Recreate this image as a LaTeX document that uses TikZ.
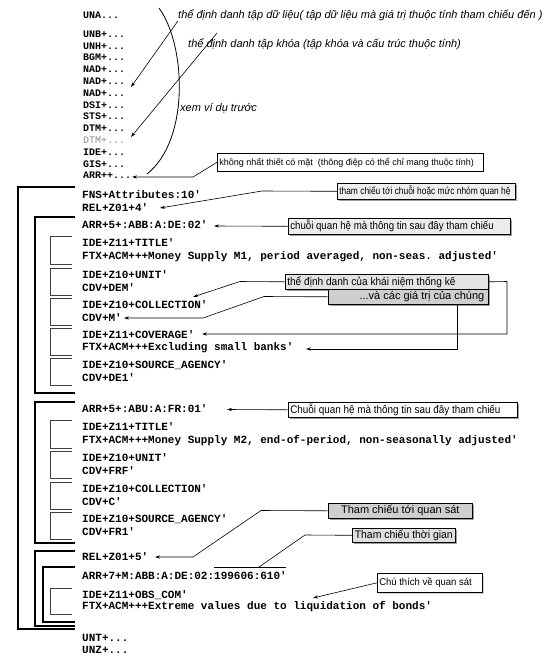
\documentclass[tikz,border=0pt]{standalone}
\usepackage{fontspec}
\setmainfont{Liberation Sans}
\setmonofont{Liberation Mono}
\usetikzlibrary{arrows.meta,shadows}
\newcommand\myfs[1]{\fontsize{#1}{#1}\selectfont}
% left-aligned (or right/centre) text of a given width, condensed horizontally
\newcommand\boxtext[4]{\makebox[#1][#2]{\scalebox{#3}[1]{#4}}}
\tikzset{
  code/.style={anchor=west, inner sep=0pt, font=\ttfamily\bfseries\myfs{11}},
  topcode/.style={anchor=west, inner sep=0pt, font=\ttfamily\bfseries\myfs{10}},
  note/.style={anchor=west, inner sep=0pt, font=\itshape\myfs{11}},
  cbox/.style={draw, line width=0.6pt, anchor=north west, inner xsep=2pt, inner ysep=0pt,
    drop shadow={shadow xshift=1.5pt, shadow yshift=-1.5pt, fill=gray!75, opacity=1}},
  plainbox/.style={draw, line width=0.6pt, anchor=north west, inner xsep=2pt, inner ysep=0pt, fill=white},
  big/.style={line width=1.1pt},
  small/.style={line width=0.6pt, draw=black!75},
  arr/.style={-{Stealth[length=5pt,width=3.2pt]}, line width=0.6pt},
  link/.style={line width=0.6pt}
}
\begin{document}
\begin{tikzpicture}[x=1pt,y=-1pt]
\useasboundingbox (0,0) rectangle (553,657);
\fill[white] (0,0) rectangle (553,657);

% ---------- top section ----------
\node[topcode] (una) at (83,15) {UNA...};
\node[topcode] (unb) at (83,34) {UNB+...};
\node[topcode] (unh) at (83,45.8) {UNH+...};
\node[topcode] (bgm) at (83,57.6) {BGM+...};
\node[topcode] (nad1) at (83,69.4) {NAD+...};
\node[topcode] (nad2) at (83,81.2) {NAD+...};
\node[topcode] (nad3) at (83,93) {NAD+...};
\node[topcode] (dsi) at (83,104.8) {DSI+...};
\node[topcode] (sts) at (83,116.6) {STS+...};
\node[topcode] (dtm1) at (83,128.4) {DTM+...};
\node[topcode, text=black!45, font=\ttfamily\myfs{10}] (dtm2) at (83,140.2) {DTM+...};
\node[topcode] (ide0) at (83,152) {IDE+...};
\node[topcode] (gis) at (83,163.8) {GIS+...};
\node[topcode] (arr0) at (83,175.6) {ARR++...};

\node[note] (t1) at (178,15) {thể định danh tập dữ liệu( tập dữ liệu mà giá trị thuộc tính tham chiếu đến )};
\node[note] (t2) at (188,44) {thể định danh tập khóa (tập khóa và cấu trúc thuộc tính)};
\node[note] (t3) at (180,108) {xem ví dụ trước};

\coordinate (t1tip) at (131,87);
\coordinate (t2s) at (217,33);
\coordinate (t2tip) at (131,137);
\draw[arr] (t1.south west) -- (t1tip);
\draw[arr] (t2s) -- (t2tip);

\coordinate (arcA) at (159,8);
\coordinate (arcB) at (147,174);
\draw[line width=0.8pt] (arcA) .. controls (186,45) and (190,140) .. (arcB);

\node[plainbox, minimum width=266pt, minimum height=18pt, font=\myfs{9}] (b0) at (217,153)
  {\boxtext{262pt}{l}{1}{không nhất thiết có mặt\ \ (thông điệp có thể chỉ mang thuộc tính)}};
\coordinate (b0k) at (193,177);
\coordinate (b0tip) at (132,177);
\draw[arr] (b0.west) -- (b0k) -- (b0tip);

% ---------- codes ----------
\node[code] (fns) at (82,195) {FNS+Attributes:10'};
\node[code] (rel1) at (82,208) {REL+Z01+4'};
\node[code] (arr1) at (82,225) {ARR+5+:ABB:A:DE:02'};
\node[code] (c1a) at (82,243) {IDE+Z11+TITLE'};
\node[code] (c1b) at (82,257) {FTX+ACM+++Money Supply M1, period averaged, non-seas. adjusted'};
\node[code] (c2a) at (82,275) {IDE+Z10+UNIT'};
\node[code] (c2b) at (82,288) {CDV+DEM'};
\node[code] (c3a) at (82,305) {IDE+Z10+COLLECTION'};
\node[code] (c3b) at (82,318) {CDV+M'};
\node[code] (c4a) at (82,335) {IDE+Z11+COVERAGE'};
\node[code] (c4b) at (82,348) {FTX+ACM+++Excluding small banks'};
\node[code] (c5a) at (82,365) {IDE+Z10+SOURCE\_AGENCY'};
\node[code] (c5b) at (82,378) {CDV+DE1'};
\node[code] (arr2) at (82,409) {ARR+5+:ABU:A:FR:01'};
\node[code] (d1a) at (82,427) {IDE+Z11+TITLE'};
\node[code] (d1b) at (82,441) {FTX+ACM+++Money Supply M2, end-of-period, non-seasonally adjusted'};
\node[code] (d2a) at (82,458) {IDE+Z10+UNIT'};
\node[code] (d2b) at (82,471) {CDV+FRF'};
\node[code] (d3a) at (82,489) {IDE+Z10+COLLECTION'};
\node[code] (d3b) at (82,502) {CDV+C'};
\node[code] (d4a) at (82,519) {IDE+Z10+SOURCE\_AGENCY'};
\node[code] (d4b) at (82,532) {CDV+FR1'};
\node[code] (rel2) at (82,557) {REL+Z01+5'};
\node[code] (arr3) at (82,576) {ARR+7+M:ABB:A:DE:02:199606:610'};
\node[code] (e1a) at (82,595) {IDE+Z11+OBS\_COM'};
\node[code] (e1b) at (82,607) {FTX+ACM+++Extreme values due to liquidation of bonds'};
\node[code] (unt) at (82,638) {UNT+...};
\node[code] (unz) at (82,650) {UNZ+...};

% ---------- brackets ----------
\draw[big] (75,187) -- (18,187) -- (18,629) -- (75,629);
\draw[big] (75,217) -- (35,217) -- (35,393) -- (75,393);
\draw[big] (75,402) -- (35,402) -- (35,543) -- (75,543);
\draw[big] (75,551) -- (35,551) -- (35,626) -- (75,626);
\draw[big] (75,567) -- (43,567) -- (43,622) -- (75,622);
\foreach \ya/\yb in {236/264, 268/295, 298/325, 328/355, 358/385,
                     420/448, 451/478, 482/509, 512/539, 588/614}{
  \draw[small] (72,\ya) -- (50,\ya) -- (50,\yb) -- (72,\yb);
}

% ---------- callout boxes ----------
\node[cbox, fill=gray!12, minimum width=178pt, minimum height=16pt, font=\myfs{10}] (b1) at (337,183)
  {\boxtext{174pt}{l}{0.84}{tham chiếu tới chuỗi hoặc mức nhóm quan hệ}};
\node[cbox, fill=gray!15, minimum width=222pt, minimum height=16pt, font=\myfs{11}] (b2) at (288,218)
  {\boxtext{218pt}{l}{0.88}{chuỗi quan hệ mà thông tin sau đây tham chiếu}};
\node[cbox, fill=gray!22, minimum width=203pt, minimum height=15pt, font=\myfs{11}] (b3) at (285,274)
  {\boxtext{199pt}{l}{0.92}{thể định danh của khái niệm thống kê}};
\node[cbox, fill=gray!38, minimum width=160pt, minimum height=15pt, font=\myfs{11}] (b4) at (328,289)
  {\boxtext{152pt}{r}{1}{...và các giá trị của chúng}};
\node[cbox, fill=white, minimum width=229pt, minimum height=15pt, font=\myfs{11}] (b5) at (288,402)
  {\boxtext{225pt}{l}{0.9}{Chuỗi quan hệ mà thông tin sau đây tham chiếu}};
\node[cbox, fill=gray!38, minimum width=144pt, minimum height=15pt, font=\myfs{11}] (b6) at (328,503)
  {\boxtext{140pt}{c}{1}{Tham chiếu tới quan sát}};
\node[cbox, fill=gray!25, minimum width=103pt, minimum height=14pt, font=\myfs{11}] (b7) at (352,528)
  {\boxtext{99pt}{c}{0.95}{Tham chiếu thời gian}};
\node[cbox, fill=white, drop shadow={shadow xshift=1.5pt, shadow yshift=-1.5pt, fill=gray!35, opacity=1},
  minimum width=105pt, minimum height=19pt, font=\myfs{10}] (b8) at (377,573)
  {\boxtext{101pt}{l}{0.95}{Chú thích về quan sát}};

% ---------- connectors ----------
\coordinate (b1k) at (262,191);
\coordinate (b1tip) at (160,208);
\draw[arr] (b1.west) -- (b1k) -- (b1tip);

\coordinate (b2tip) at (214,226);
\draw[arr] (b2.west) -- (b2tip);

\coordinate (b3k) at (240,281.5);
\coordinate (b3tip) at (193,297);
\draw[arr] (b3.west) -- (b3k) -- (b3tip);
\coordinate (b3r) at (507,281.5);
\coordinate (b3d) at (507,334);
\coordinate (b3tip2) at (202,334);
\draw[arr] (b3.east) -- (b3r) -- (b3d) -- (b3tip2);

\coordinate (b4k1) at (264,296.5);
\coordinate (b4k2) at (203,318);
\coordinate (b4tip) at (124,318);
\draw[arr] (b4.west) -- (b4k1) -- (b4k2) -- (b4tip);
\coordinate (b4s) at (457,304);
\coordinate (b4d) at (457,349);
\coordinate (b4tip2) at (306,349);
\draw[arr] (b4s) -- (b4d) -- (b4tip2);

\coordinate (b5tip) at (227,409.5);
\draw[arr] (b5.west) -- (b5tip);

\coordinate (b6k1) at (261,510.5);
\coordinate (b6k2) at (193,557);
\coordinate (b6tip) at (155,557);
\draw[arr] (b6.west) -- (b6k1) -- (b6k2) -- (b6tip);

\coordinate (b7k) at (305,535);
\coordinate (b7e) at (259,567);
\coordinate (ulA) at (214,567);
\coordinate (ulB) at (286,567);
\draw[link] (b7.west) -- (b7k) -- (b7e);
\draw[link] (ulA) -- (ulB);

\coordinate (b8tip) at (313,598);
\draw[arr] (b8.west) -- (b8tip);
\end{tikzpicture}
\end{document}
